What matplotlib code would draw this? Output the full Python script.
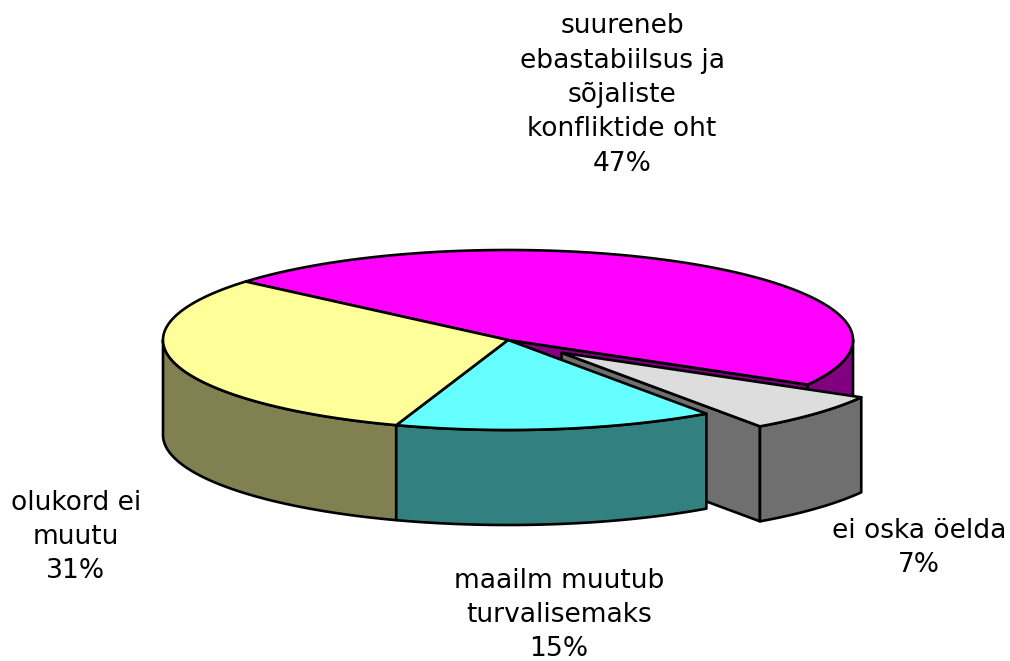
import numpy as np
import matplotlib
matplotlib.use("Agg")
import matplotlib.pyplot as plt
from matplotlib.patches import Polygon

plt.rcParams['font.family'] = ['DejaVu Sans']

labels = ["suureneb\nebastabiilsus ja\nsõjaliste\nkonfliktide oht\n47%",
          "ei oska öelda\n7%",
          "maailm muutub\nturvalisemaks\n15%",
          "olukord ei\nmuutu\n31%"]
values = [47, 7, 15, 31]
top_colors = ["#FF00FF", "#DDDDDD", "#66FFFF", "#FFFF99"]
side_colors = ["#800080", "#6F6F6F", "#338080", "#808050"]
explode = [0, 0.21, 0, 0]
label_pos = [(622, 95), (919, 548), (559, 615), (76, 537)]

CX, CY, A, B, DEPTH = 508, 340, 345, 90, 95
START = 139.5
LW = 1.9

fig = plt.figure(figsize=(10.10, 6.61), dpi=100)
ax = fig.add_axes([0, 0, 1, 1])
ax.set_xlim(0, 1010)
ax.set_ylim(661, 0)
ax.axis("off")

def pt(t, cx, cy):
    t = np.radians(t)
    return cx + A*np.cos(t), cy - B*np.sin(t)

def arc(t0, t1, cx, cy):
    ts = np.linspace(t0, t1, 200)
    x, y = pt(ts, cx, cy)
    return np.column_stack([x, y])

def poly(xy, c, z):
    ax.add_patch(Polygon(xy, closed=True, fc=c, ec="black", lw=LW, joinstyle="round", zorder=z))

edges = START - np.cumsum([0] + values) * 3.6
slices = []
for i, v in enumerate(values):
    t0, t1 = edges[i], edges[i+1]
    mid = np.radians((t0 + t1) / 2)
    cx = CX + explode[i]*A*np.cos(mid)
    cy = CY - explode[i]*B*np.sin(mid)
    slices.append((t0, t1, cx, cy))

def side(i, z):
    t0, t1, cx, cy = slices[i]
    lo, hi = min(t0, t1), max(t0, t1)
    for k in (-360, 0):
        a, b = max(lo, -180 + k), min(hi, 0 + k)
        if a < b:
            edge = arc(a, b, cx, cy)
            poly(np.vstack([edge, edge[::-1] + [0, DEPTH]]), side_colors[i], z)

def cut(i, t, z):
    t0, t1, cx, cy = slices[i]
    x, y = pt(t, cx, cy)
    poly([(cx, cy), (x, y), (x, y + DEPTH), (cx, cy + DEPTH)], side_colors[i], z)

def top(i, z):
    t0, t1, cx, cy = slices[i]
    poly(np.vstack([[cx, cy], arc(t0, t1, cx, cy)]), top_colors[i], z)

# back to front
side(0, 1)
cut(0, slices[0][1], 2)
top(0, 3)
cut(1, slices[1][1], 4)
side(1, 5)
top(1, 6)
side(3, 7)
side(2, 7)
top(2, 8)
top(3, 8)

for s, (x, y) in zip(labels, label_pos):
    ax.text(x, y, s, ha="center", va="center", fontsize=19.1, linespacing=1.42, color="black", zorder=10)

fig.savefig("out.png", dpi=100)
